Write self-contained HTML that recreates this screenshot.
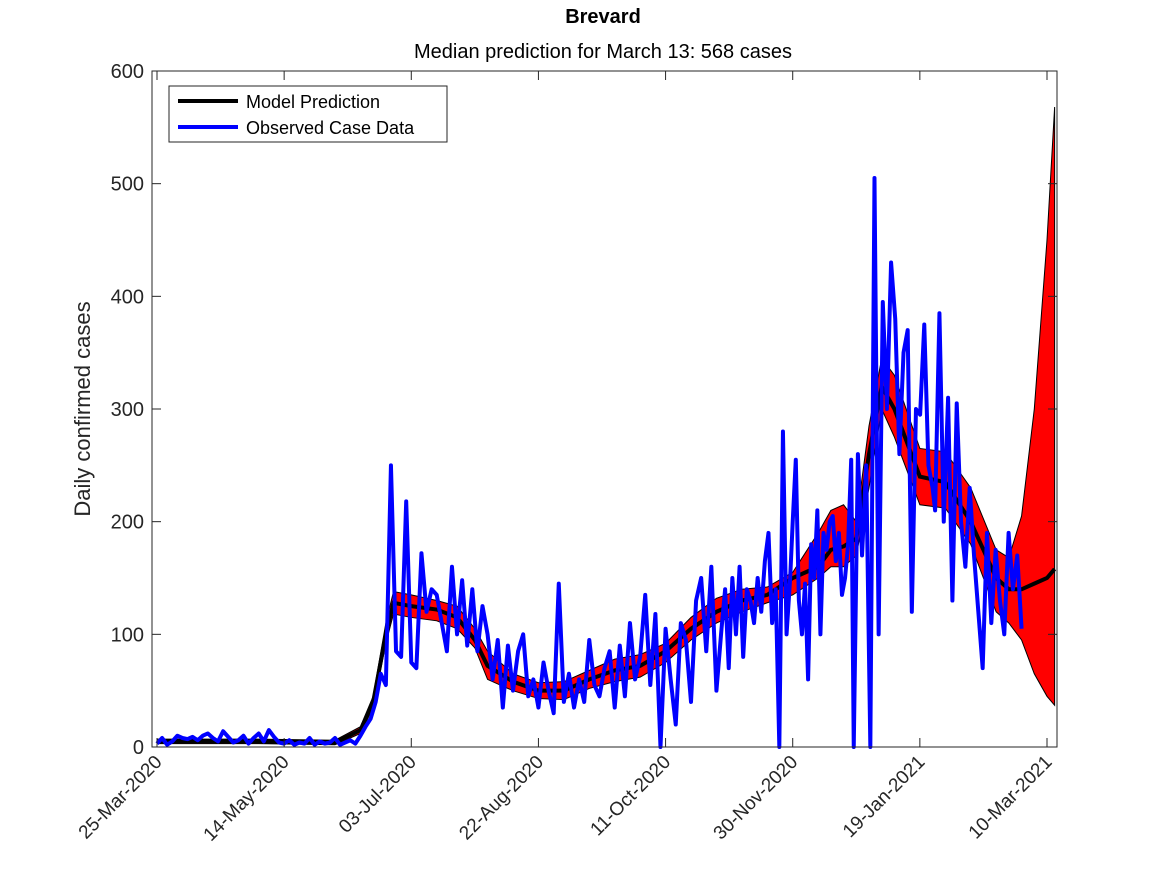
<!DOCTYPE html>
<html><head><meta charset="utf-8"><style>
body{margin:0;background:#fff;}
svg{font-family:"Liberation Sans",sans-serif;}
</style></head><body>
<svg id="c" width="1167" height="875"></svg>
<script>
const bandDays=[0,40,70,80,85,90,93,100,110,118,125,130,140,150,160,170,180,190,200,210,220,230,240,250,260,265,270,275,280,285,290,300,310,320,330,335,340,345,350,353];
const medianVals=[5,5,4,15,40,100,128,125,122,115,95,72,58,50,50,60,68,72,85,105,120,130,135,150,160,175,178,185,260,320,300,240,235,200,150,140,140,145,150,158];
const upperVals=[7,7,6,18,45,110,138,135,130,125,105,85,65,57,58,68,78,82,92,115,132,140,142,155,190,210,215,200,285,345,330,265,262,230,175,168,205,300,450,568];
const lowerVals=[3,3,2,12,35,92,118,115,112,105,88,60,50,43,42,52,58,62,75,95,110,120,128,135,150,160,160,170,230,300,275,215,212,180,120,110,95,65,45,37];
const obsVals=[3,8,2,5,10,8,7,9,6,10,12,8,5,14,9,4,6,10,3,8,12,5,15,9,4,
3,6,2,4,3,8,2,5,3,4,8,2,4,6,3,
10,18,25,40,65,55,
250,85,80,218,75,70,172,120,140,135,110,85,160,100,148,90,140,85,125,100,
60,95,35,90,50,85,100,45,60,35,75,50,30,145,40,
65,35,60,40,95,55,45,70,85,35,90,45,110,60,80,
135,55,118,0,105,60,20,110,95,40,130,150,85,160,50,
105,140,70,150,100,160,80,140,130,110,150,120,165,190,110,140,0,280,100,150,
200,255,130,100,145,60,180,150,210,100,190,175,200,205,165,190,135,150,180,255,
0,260,170,250,0,505,100,395,300,430,380,260,350,370,120,300,295,375,250,230,
210,385,200,310,130,305,200,160,230,170,120,70,190,110,175,130,100,190,140,170,105];
// observed-day segments: [firstDay, lastDay, count]
const obsSegments=[[0,48,25],[50,78,15],[80,90,6],[92,130,20],[132,160,15],[162,190,15],[192,220,15],[222,249,20],[250,273,20],[274,305,20],[306,340,21]];
const tickLabels=["25-Mar-2020","14-May-2020","03-Jul-2020","22-Aug-2020","11-Oct-2020","30-Nov-2020","19-Jan-2021","10-Mar-2021"];
const tickDays=[0,50,100,150,200,250,300,350];
const yTicks=[0,100,200,300,400,500,600];

const obsDays=[];
obsSegments.forEach(s=>{for(let k=0;k<s[2];k++)obsDays.push(s[0]+(s[1]-s[0])*k/(s[2]-1));});

const NS="http://www.w3.org/2000/svg";
const svg=document.getElementById('c');
const L=152,R=1057,T=71,B=747;
const x=d=>157+d*(1047-157)/350;
const y=v=>B-v*(B-T)/600;
function mk(t,a,p){const e=document.createElementNS(NS,t);for(const k in a)e.setAttribute(k,a[k]);(p||svg).appendChild(e);return e;}

let d="";
bandDays.forEach((dd,i)=>{d+=(i?"L":"M")+x(dd)+","+y(upperVals[i]);});
for(let i=bandDays.length-1;i>=0;i--)d+="L"+x(bandDays[i])+","+y(lowerVals[i]);
const band=mk('path',{d:d+"Z",fill:"#ff0000",stroke:"#000","stroke-width":1});



const med=mk('polyline',{points:bandDays.map((dd,i)=>x(dd)+","+y(medianVals[i])).join(" "),fill:"none",stroke:"#000","stroke-width":4});



const n=Math.min(obsVals.length,obsDays.length);
const pts=[];
for(let i=0;i<n;i++)pts.push(x(obsDays[i])+","+y(obsVals[i]));
const obs=mk('polyline',{points:pts.join(" "),fill:"none",stroke:"#0000ff","stroke-width":4,"stroke-linejoin":"round"});



const frame=mk('rect',{x:L,y:T,width:R-L,height:B-T,fill:"none",stroke:"#262626","stroke-width":1});



yTicks.forEach(v=>{
  mk('line',{x1:L,x2:L+9,y1:y(v),y2:y(v),stroke:"#262626"});
  mk('line',{x1:R,x2:R-9,y1:y(v),y2:y(v),stroke:"#262626"});
  const t=mk('text',{x:L-8,y:y(v)+7,"text-anchor":"end","font-size":20,fill:"#262626"});
  t.textContent=v;
  
  
});
tickDays.forEach((dd,i)=>{
  const xx=x(dd);
  mk('line',{x1:xx,x2:xx,y1:B,y2:B-9,stroke:"#262626"});
  mk('line',{x1:xx,x2:xx,y1:T,y2:T+9,stroke:"#262626"});
  const t=mk('text',{x:xx+6,y:B+16,"text-anchor":"end","font-size":19,fill:"#262626",transform:`rotate(-45 ${xx+6} ${B+16})`});
  t.textContent=tickLabels[i];
  
  
});
</script>
<svg width="1167" height="875" style="position:absolute;left:0;top:0">
<text x="603" y="23" text-anchor="middle" font-size="20" font-weight="bold" fill="#000" font-family="Liberation Sans, sans-serif">Brevard</text>
<text x="603" y="58" text-anchor="middle" font-size="20" fill="#000" font-family="Liberation Sans, sans-serif">Median prediction for March 13: 568 cases</text>
<text x="90" y="409" text-anchor="middle" font-size="22" fill="#262626" font-family="Liberation Sans, sans-serif" transform="rotate(-90 90 409)">Daily confirmed cases</text>
<g>
<rect x="169" y="86" width="278" height="56" fill="#fff" stroke="#262626"/>
<line x1="178" x2="238" y1="101" y2="101" stroke="#000" stroke-width="4"/>
<text x="246" y="108" font-size="18" fill="#000" font-family="Liberation Sans, sans-serif">Model Prediction</text>
<line x1="178" x2="238" y1="127" y2="127" stroke="#0000ff" stroke-width="4"/>
<text x="246" y="134" font-size="18" fill="#000" font-family="Liberation Sans, sans-serif">Observed Case Data</text>
</g>
</svg>
</body></html>
